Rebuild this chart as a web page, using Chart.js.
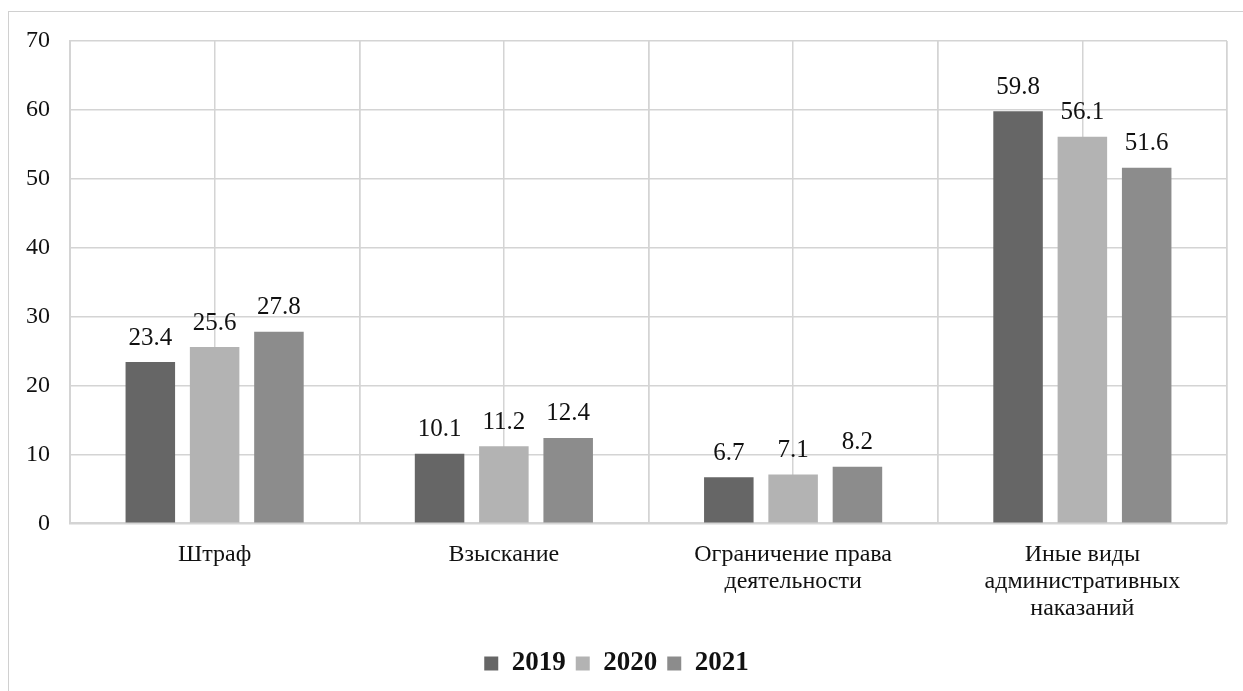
<!DOCTYPE html>
<html>
<head>
<meta charset="utf-8">
<script src="https://cdn.jsdelivr.net/npm/chart.js@4"></script>
<style>
  body { margin: 0; background: #fff; }
  #wrap { position: relative; width: 1243px; height: 691px; overflow: hidden; }
  #frame { position: absolute; left: 8px; top: 11px; width: 1300px; height: 800px; border: 1.5px solid #d0d0d0; }
  canvas { position: absolute; left: 0; top: 0; }
</style>
</head>
<body>
<div id="wrap">
  <div id="frame"></div>
  <canvas id="chart" width="1243" height="691"></canvas>
</div>
<script>
// categories (multi-line labels) and yearly series
const categories = [
  'Штраф',
  'Взыскание',
  ['Ограничение права', 'деятельности'],
  ['Иные виды', 'административных', 'наказаний']
];
const years = ['2019', '2020', '2021'];
const values2019 = [23.4, 10.1, 6.7, 59.8];
const values2020 = [25.6, 11.2, 7.1, 56.1];
const values2021 = [27.8, 12.4, 8.2, 51.6];
const colors = ['#666666', '#b3b3b3', '#8c8c8c'];

const gridColor = '#d4d4d4';
const serif = '"Liberation Serif", "Times New Roman", serif';

// draws the value above each bar
const valueLabels = {
  id: 'valueLabels',
  afterDatasetsDraw(chart) {
    const c = chart.ctx;
    c.save();
    c.font = '25px ' + serif;
    c.fillStyle = '#111';
    c.textAlign = 'center';
    c.textBaseline = 'middle';
    chart.data.datasets.forEach((ds, i) => {
      chart.getDatasetMeta(i).data.forEach((bar, j) => {
        c.fillText(ds.data[j].toFixed(1), bar.x, bar.y - 24);
      });
    });
    c.restore();
  }
};

new Chart(document.getElementById('chart'), {
  type: 'bar',
  data: {
    labels: categories,
    datasets: [
      { label: years[0], data: values2019, backgroundColor: colors[0] },
      { label: years[1], data: values2020, backgroundColor: colors[1] },
      { label: years[2], data: values2021, backgroundColor: colors[2] }
    ]
  },
  options: {
    responsive: false,
    animation: false,
    categoryPercentage: 0.667,
    barPercentage: 0.77,
    layout: { padding: { left: 6, right: 16, top: 41, bottom: 4 } },
    scales: {
      x: {
        grid: { color: gridColor, lineWidth: 1.5, drawTicks: false },
        border: { color: gridColor, width: 2 },
        ticks: { color: '#111', font: { family: serif, size: 24, lineHeight: 1.12 }, padding: 18, maxRotation: 0 }
      },
      // hidden helper axis: adds the vertical lines through each category centre
      xMid: {
        type: 'linear',
        position: 'top',
        min: 0,
        max: 8,
        offset: false,
        ticks: { display: false, stepSize: 1 },
        grid: { color: gridColor, lineWidth: 1.5, drawTicks: false, offset: false },
        border: { display: false }
      },
      y: {
        min: 0,
        max: 70,
        ticks: { stepSize: 10, color: '#111', font: { family: serif, size: 24 }, padding: 20 },
        grid: { color: gridColor, lineWidth: 1.5, drawTicks: false },
        border: { color: gridColor, width: 2 }
      }
    },
    plugins: {
      legend: {
        position: 'bottom',
        labels: {
          color: '#111',
          font: { family: serif, size: 27, weight: 'bold' },
          boxWidth: 14,
          boxHeight: 14,
          padding: 10
        }
      },
      tooltip: { enabled: false }
    }
  },
  plugins: [valueLabels]
});
</script>
</body>
</html>
